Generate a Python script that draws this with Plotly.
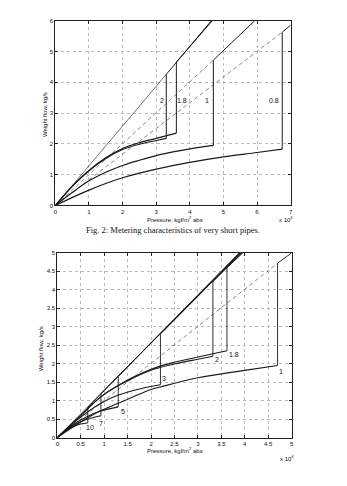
import plotly.graph_objects as go

# ---------------- data: top chart (x in 1e4 kgf/m^2 abs, y in kg/s) -------------
top_ideal_x = [0, 3.3]
top_ideal_y = [0, 4.26]

top_p2_x = [0, 0.5, 1, 1.5, 2, 2.5, 3, 3.3]
top_p2_y = [0, 0.62, 1.13, 1.53, 1.82, 1.99, 2.11, 2.18]
top_p2_tail_x = [3.3, 3.3, 4.64]
top_p2_tail_y = [2.18, 4.26, 6.0]

top_p18_x = [0, 0.5, 1, 1.5, 2, 2.5, 3, 3.6]
top_p18_y = [0, 0.62, 1.14, 1.55, 1.85, 2.04, 2.18, 2.35]
top_p18_tail_x = [3.6, 3.6, 4.67]
top_p18_tail_y = [2.35, 4.66, 6.0]

top_p1_x = [0, 0.5, 1, 1.5, 2, 2.5, 3, 3.5, 4, 4.7]
top_p1_y = [0, 0.42, 0.8, 1.08, 1.3, 1.47, 1.62, 1.74, 1.84, 1.95]
top_p1_tail_x = [4.7, 4.7, 5.93]
top_p1_tail_y = [1.95, 4.72, 6.0]

top_p08_x = [0, 1, 2, 3, 4, 5, 6, 6.75]
top_p08_y = [0, 0.5, 0.9, 1.18, 1.4, 1.58, 1.72, 1.83]
top_p08_tail_x = [6.75, 6.75, 7.0]
top_p08_tail_y = [1.83, 5.63, 5.86]

top_dash1_x = [0, 4.7]
top_dash1_y = [0, 4.72]
top_dash2_x = [0, 6.75]
top_dash2_y = [0, 5.63]

top_labels = ["2", "1.8", "1", "0.8"]
top_label_x = [3.18, 3.78, 4.51, 6.5]
top_label_y = [3.42, 3.42, 3.42, 3.42]

# ---------------- data: bottom chart -------------
bot_ideal_x = [0, 3.9]
bot_ideal_y = [0, 5.0]

bot_p10_x = [0, 0.2, 0.4, 0.65]
bot_p10_y = [0, 0.2, 0.33, 0.4]
bot_p10_tail_x = [0.65, 0.65, 3.88]
bot_p10_tail_y = [0.4, 0.82, 5.0]

bot_p7_x = [0, 0.3, 0.6, 0.93]
bot_p7_y = [0, 0.3, 0.48, 0.59]
bot_p7_tail_x = [0.93, 0.93, 3.9]
bot_p7_tail_y = [0.59, 1.19, 5.0]

bot_p5_x = [0, 0.3, 0.65, 0.93, 1.3]
bot_p5_y = [0, 0.32, 0.58, 0.72, 0.83]
bot_p5_tail_x = [1.3, 1.3, 3.91]
bot_p5_tail_y = [0.83, 1.66, 5.0]

bot_p3_x = [0, 0.3, 0.65, 0.93, 1.3, 1.8, 2.2]
bot_p3_y = [0, 0.35, 0.7, 0.93, 1.15, 1.33, 1.43]
bot_p3_tail_x = [2.2, 2.2, 3.92]
bot_p3_tail_y = [1.43, 2.8, 5.0]

bot_p2_x = [0, 0.5, 0.93, 1.3, 2, 2.5, 3, 3.32]
bot_p2_y = [0, 0.6, 1.1, 1.4, 1.82, 1.99, 2.12, 2.2]
bot_p2_tail_x = [3.32, 3.32, 3.94]
bot_p2_tail_y = [2.2, 4.22, 5.0]

bot_p18_x = [0, 0.5, 0.93, 1.3, 2, 2.5, 3, 3.62]
bot_p18_y = [0, 0.6, 1.11, 1.42, 1.85, 2.04, 2.18, 2.35]
bot_p18_tail_x = [3.62, 3.62, 3.96]
bot_p18_tail_y = [2.35, 4.6, 5.0]

bot_p1_x = [0, 0.5, 0.93, 1.3, 2, 2.2, 3, 4, 4.7]
bot_p1_y = [0, 0.42, 0.73, 0.93, 1.3, 1.37, 1.62, 1.82, 1.95]
bot_p1_tail_x = [4.7, 4.7, 5.0]
bot_p1_tail_y = [1.95, 4.72, 5.0]

bot_dash_x = [0, 4.7]
bot_dash_y = [0, 4.72]

bot_labels = ["1.8", "2", "3", "1", "5", "7", "10"]
bot_label_x = [3.77, 3.40, 2.28, 4.78, 1.40, 0.93, 0.70]
bot_label_y = [2.25, 2.10, 1.61, 1.79, 0.70, 0.375, 0.26]

top_xticks = [0, 1, 2, 3, 4, 5, 6, 7]
top_yticks = [0, 1, 2, 3, 4, 5, 6]
bot_xticks = [0, 0.5, 1, 1.5, 2, 2.5, 3, 3.5, 4, 4.5, 5]
bot_yticks = [0, 0.5, 1, 1.5, 2, 2.5, 3, 3.5, 4, 4.5, 5]

# ---------------- figure -------------
W, H = 347, 486
fig = go.Figure()
LC = "#1a1a1a"
FONT = "Liberation Sans"


def add_line(x, y, ax, width=1.1, color=LC, dash="solid", shape="linear"):
    xa, ya = ("x", "y") if ax == 1 else ("x2", "y2")
    fig.add_trace(go.Scatter(x=x, y=y, mode="lines", xaxis=xa, yaxis=ya,
                             line=dict(color=color, width=width, dash=dash, shape=shape),
                             hoverinfo="skip", showlegend=False))


# top chart
add_line(top_dash1_x, top_dash1_y, 1, width=0.7, color="#555", dash="4px,3px")
add_line(top_dash2_x, top_dash2_y, 1, width=0.7, color="#555", dash="4px,3px")
add_line(top_ideal_x, top_ideal_y, 1, width=0.7, color="#333")
for cx, cy, tx, ty in [(top_p2_x, top_p2_y, top_p2_tail_x, top_p2_tail_y),
                       (top_p18_x, top_p18_y, top_p18_tail_x, top_p18_tail_y),
                       (top_p1_x, top_p1_y, top_p1_tail_x, top_p1_tail_y),
                       (top_p08_x, top_p08_y, top_p08_tail_x, top_p08_tail_y)]:
    add_line(cx, cy, 1, width=1.2, shape="spline")
    add_line(tx, ty, 1, width=1.0)

# bottom chart
add_line(bot_dash_x, bot_dash_y, 2, width=0.7, color="#555", dash="4px,3px")
add_line(bot_ideal_x, bot_ideal_y, 2, width=0.8, color="#333")
for cx, cy, tx, ty in [(bot_p10_x, bot_p10_y, bot_p10_tail_x, bot_p10_tail_y),
                       (bot_p7_x, bot_p7_y, bot_p7_tail_x, bot_p7_tail_y),
                       (bot_p5_x, bot_p5_y, bot_p5_tail_x, bot_p5_tail_y),
                       (bot_p3_x, bot_p3_y, bot_p3_tail_x, bot_p3_tail_y),
                       (bot_p2_x, bot_p2_y, bot_p2_tail_x, bot_p2_tail_y),
                       (bot_p18_x, bot_p18_y, bot_p18_tail_x, bot_p18_tail_y),
                       (bot_p1_x, bot_p1_y, bot_p1_tail_x, bot_p1_tail_y)]:
    add_line(cx, cy, 2, width=1.1, shape="spline")
    add_line(tx, ty, 2, width=0.9)

# curve labels as annotations in data coordinates
for t, lx, ly in zip(top_labels, top_label_x, top_label_y):
    fig.add_annotation(text=t, x=lx, y=ly, xref="x", yref="y", showarrow=False,
                       font=dict(family=FONT, size=7, color="#111"))
for t, lx, ly in zip(bot_labels, bot_label_x, bot_label_y):
    fig.add_annotation(text=t, x=lx, y=ly, xref="x2", yref="y2", showarrow=False,
                       font=dict(family=FONT, size=7, color="#111"))

axis_common = dict(showline=True, linecolor="#222", linewidth=1, mirror="allticks",
                   ticks="inside", ticklen=3, tickcolor="#222", tickwidth=0.8,
                   showgrid=True, gridcolor="#bbb", griddash="dot", gridwidth=0.6,
                   zeroline=False, tickfont=dict(family=FONT, size=6, color="#111"))

top_y0, top_y1 = 1 - 205 / H, 1 - 18 / H
bot_y0, bot_y1 = 1 - 440 / H, 1 - 253 / H

fig.update_layout(
    width=W, height=H, margin=dict(l=0, r=0, t=0, b=0),
    paper_bgcolor="white", plot_bgcolor="white",
    xaxis=dict(domain=[54 / W, 292 / W], range=[0, 7], tickvals=top_xticks,
               anchor="y", **axis_common),
    yaxis=dict(domain=[top_y0, top_y1], range=[0, 6], tickvals=top_yticks,
               anchor="x", **axis_common),
    xaxis2=dict(domain=[56 / W, 293 / W], range=[0, 5], tickvals=bot_xticks,
                anchor="y2", **axis_common),
    yaxis2=dict(domain=[bot_y0, bot_y1], range=[0, 5], tickvals=bot_yticks,
                anchor="x2", **axis_common),
)


def ann(text, x, y, size=6, family=FONT, angle=0, xanchor="center"):
    fig.add_annotation(text=text, x=x / W, y=1 - y / H, xref="paper", yref="paper",
                       showarrow=False, textangle=angle, xanchor=xanchor, yanchor="middle",
                       font=dict(family=family, size=size, color="#111"))


# top axis titles
ann("Pressure, kgf/m<sup>2</sup> abs", 175, 219)
ann("x 10<sup>4</sup>", 287, 219)
ann("Weight flow, kg/s", 43, 113, angle=-90)
ann("Fig. 2: Metering characteristics of very short pipes.", 173, 230,
    size=8.5, family="Liberation Serif")

# bottom axis titles
ann("Pressure, kgf/m<sup>2</sup> abs", 175, 453)
ann("x 10<sup>4</sup>", 288, 461)
ann("Weight flow, kg/s", 39, 350, angle=-90)

fig.write_html("out.html")
